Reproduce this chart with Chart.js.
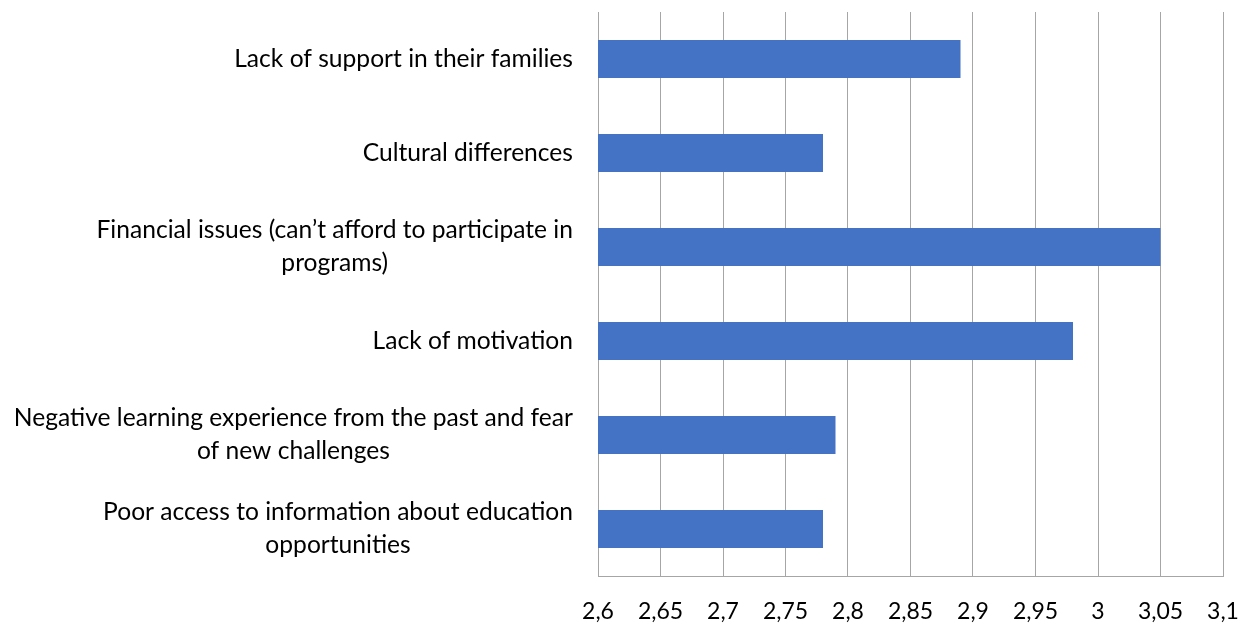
<!DOCTYPE html>
<html>
<head>
<meta charset="utf-8">
<script src="https://cdn.jsdelivr.net/npm/chart.js@4/dist/chart.umd.min.js"></script>
<style>
  html, body { margin: 0; padding: 0; background: #fff; }
</style>
</head>
<body>
<canvas id="chart" width="1247" height="624"></canvas>
<script>
const categories = [
  ['Lack of support in their families'],
  ['Cultural differences'],
  ['Financial issues (can\u2019t afford to participate in', 'programs)'],
  ['Lack of motivation'],
  ['Negative learning experience from the past and fear', 'of new challenges'],
  ['Poor access to information about education', 'opportunities']
];
const values = [2.89, 2.78, 3.05, 2.98, 2.79, 2.78];
const tickLabels = ['2,6', '2,65', '2,7', '2,75', '2,8', '2,85', '2,9', '2,95', '3', '3,05', '3,1'];

const labelFont = '24.6px Lato';
const lineGap = 33;

// category labels: block right-aligned against the plot, lines centred inside the block
const categoryLabels = {
  id: 'categoryLabels',
  afterDraw(chart) {
    const ctx = chart.ctx;
    const y = chart.scales.y;
    const right = chart.chartArea.left - 25;
    ctx.save();
    ctx.font = labelFont;
    ctx.fillStyle = '#000';
    ctx.textAlign = 'center';
    ctx.textBaseline = 'middle';
    categories.forEach((lines, i) => {
      const w = Math.max(...lines.map(l => ctx.measureText(l).width));
      const cx = right - w / 2;
      const cy = y.getPixelForValue(i);
      lines.forEach((l, j) => {
        ctx.fillText(l, cx, cy + (j - (lines.length - 1) / 2) * lineGap);
      });
    });
    ctx.restore();
  }
};

const ctx = document.getElementById('chart').getContext('2d');
const chart = new Chart(ctx, {
  type: 'bar',
  data: {
    labels: categories.map(c => c.join(' ')),
    datasets: [{
      data: values,
      backgroundColor: '#4472C4',
      barPercentage: 0.404,
      categoryPercentage: 1
    }]
  },
  options: {
    indexAxis: 'y',
    responsive: false,
    animation: false,
    layout: { padding: { left: 598, right: 24, top: 12, bottom: 0 } },
    plugins: { legend: { display: false }, tooltip: { enabled: false } },
    scales: {
      y: { display: false },
      x: {
        min: 2.6,
        max: 3.1,
        afterFit(scale) {
          scale.height = 48;
          scale.paddingLeft = 0;
          scale.paddingRight = 0;
        },
        grid: { color: '#a6a6a6', lineWidth: 1, drawTicks: false },
        border: { color: '#a6a6a6' },
        ticks: {
          stepSize: 0.05,
          padding: 22,
          color: '#000',
          font: { family: 'Lato', size: 23 },
          callback: (v, i) => tickLabels[i]
        }
      }
    }
  },
  plugins: [categoryLabels]
});
</script>
</body>
</html>
